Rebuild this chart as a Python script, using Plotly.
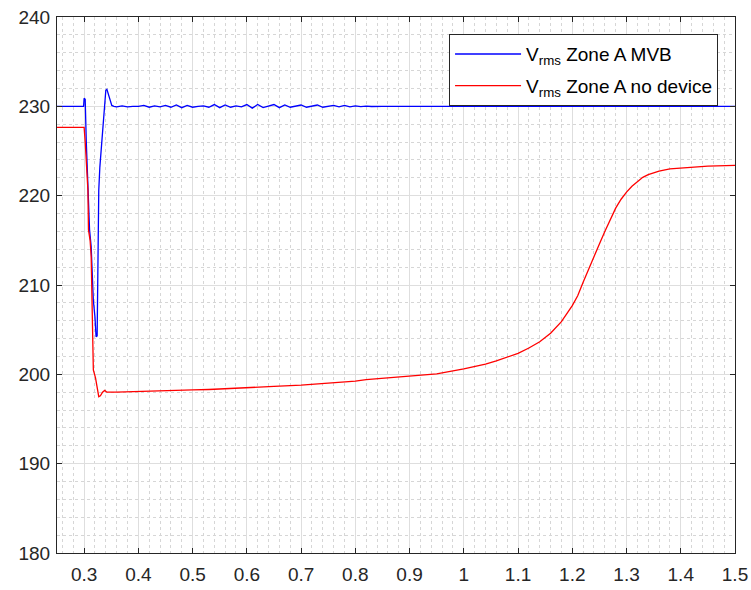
import plotly.graph_objects as go

# ---- data ----
mvb_t = [0.250, 0.299, 0.300, 0.302, 0.304, 0.307, 0.310, 0.313, 0.317, 0.320, 0.322, 0.324,
         0.325, 0.326, 0.327, 0.329, 0.335, 0.340, 0.342, 0.345, 0.348, 0.351, 0.355,
         0.36, 0.37, 0.38, 0.39, 0.40, 0.41, 0.42, 0.43, 0.44, 0.45, 0.46, 0.47, 0.48, 0.49,
         0.50, 0.51, 0.52, 0.53, 0.54, 0.55, 0.56, 0.57, 0.58, 0.59, 0.60, 0.61, 0.62, 0.63,
         0.64, 0.65, 0.66, 0.67, 0.68, 0.69, 0.70, 0.71, 0.72, 0.73, 0.74, 0.75, 0.76, 0.77,
         0.78, 0.79, 0.80, 0.81, 0.82, 0.83, 0.84, 0.85, 1.50]
mvb_v = [230.0, 230.0, 230.9, 230.8, 226.0, 220.6, 216.2, 214.3, 208.3, 206.4, 204.2, 204.3,
         210.9, 216.9, 220.6, 223.2, 228.1, 231.8, 231.9, 231.3, 230.5, 230.1, 230.0,
         229.95, 230.05, 229.95, 230.0, 230.0, 230.1, 229.9, 230.05, 229.95, 230.1, 229.9, 230.15, 229.85, 230.1,
         229.9, 230.0, 230.05, 229.9, 230.2, 229.85, 230.15, 229.9, 230.05, 229.95, 230.2, 229.8, 230.2, 229.85,
         230.05, 230.2, 229.85, 230.15, 229.9, 230.05, 230.15, 229.9, 230.05, 230.15, 229.9, 230.0, 230.1, 229.95,
         230.1, 229.95, 230.05, 229.97, 230.03, 229.98, 230.02, 230.0, 230.0]

nodev_t = [0.250, 0.300, 0.302, 0.305, 0.307, 0.308, 0.311, 0.313, 0.314, 0.315, 0.317, 0.321,
           0.323, 0.327, 0.330, 0.334, 0.338, 0.342, 0.36, 0.40, 0.45, 0.50, 0.53, 0.60, 0.65,
           0.70, 0.75, 0.80, 0.82, 0.85, 0.90, 0.95, 1.00, 1.02, 1.04, 1.06, 1.08, 1.10, 1.12,
           1.14, 1.16, 1.18, 1.20, 1.21, 1.22, 1.23, 1.24, 1.25, 1.26, 1.27, 1.28, 1.29, 1.30,
           1.31, 1.32, 1.33, 1.34, 1.36, 1.38, 1.40, 1.45, 1.50]
nodev_v = [227.65, 227.65, 226.0, 222.0, 220.6, 216.2, 215.0, 213.2, 209.4, 203.8, 200.5, 199.6,
           199.0, 197.5, 197.6, 198.0, 198.2, 198.0, 198.0, 198.05, 198.15, 198.25, 198.3, 198.55, 198.65,
           198.8, 199.0, 199.25, 199.4, 199.55, 199.75, 200.05, 200.6, 200.85, 201.15, 201.5, 201.9, 202.35, 202.95,
           203.65, 204.6, 205.9, 207.7, 208.8, 210.3, 211.8, 213.3, 214.6, 216.0, 217.4, 218.6, 219.6, 220.4,
           221.05, 221.6, 222.05, 222.35, 222.75, 223.0, 223.1, 223.3, 223.4]

x_tickvals = [0.3, 0.4, 0.5, 0.6, 0.7, 0.8, 0.9, 1.0, 1.1, 1.2, 1.3, 1.4, 1.5]
x_ticktext = ["0.3", "0.4", "0.5", "0.6", "0.7", "0.8", "0.9", "1", "1.1", "1.2", "1.3", "1.4", "1.5"]
y_tickvals = [180, 190, 200, 210, 220, 230, 240]
y_ticktext = ["180", "190", "200", "210", "220", "230", "240"]

series_names = ["V<sub>rms</sub> Zone A MVB", "V<sub>rms</sub> Zone A no device"]

fig = go.Figure()
fig.add_trace(go.Scatter(x=mvb_t, y=mvb_v, mode="lines", name=series_names[0], legendgroup="a",
                         line=dict(color="#0000ff", width=1.3)))
fig.add_trace(go.Scatter(x=nodev_t, y=nodev_v, mode="lines", name=series_names[1], legendgroup="b",
                         line=dict(color="#ff0000", width=1.3)))

axis_font = dict(family="Liberation Sans, Arial, sans-serif", size=19, color="#262626")
common = dict(showline=True, linecolor="#262626", linewidth=1, mirror="ticks",
              ticks="inside", ticklen=5, tickcolor="#262626", automargin=False,
              showgrid=True, gridcolor="#dedede", gridwidth=1, zeroline=False,
              tickfont=axis_font)

fig.update_xaxes(range=[0.25, 1.5], tickmode="array", tickvals=x_tickvals, ticktext=x_ticktext,
                 ticklabelstandoff=4,
                 minor=dict(dtick=0.02, tick0=0.0, showgrid=True, gridcolor="#d6d6d6",
                            griddash="dot", gridwidth=1, ticks=""),
                 **common)
fig.update_yaxes(range=[180, 240], tickmode="array", tickvals=y_tickvals, ticktext=y_ticktext,
                 ticklabelstandoff=2,
                 minor=dict(dtick=2, tick0=0, showgrid=True, gridcolor="#d6d6d6",
                            griddash="dot", gridwidth=1, ticks=""),
                 **common)

fig.update_layout(
    width=751, height=590,
    margin=dict(l=57, r=16, t=17, b=37),
    paper_bgcolor="white", plot_bgcolor="white",
    font=axis_font,
    legend=dict(x=0.975, y=0.968, xanchor="right", yanchor="top",
                bgcolor="white", bordercolor="#262626", borderwidth=1,
                font=dict(family="Liberation Sans, Arial, sans-serif", size=19, color="#000000"),
                itemwidth=66, tracegroupgap=4),
    showlegend=True,
)

fig.write_html("out.html")
